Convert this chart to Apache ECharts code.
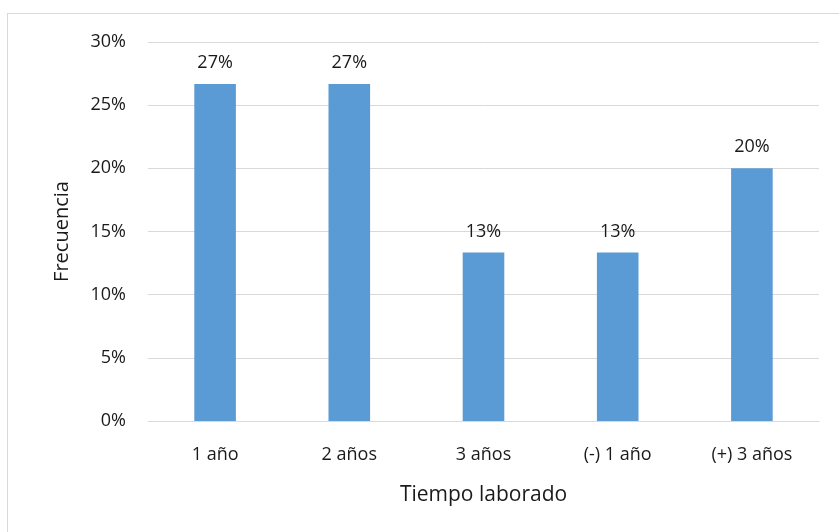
<!DOCTYPE html>
<html>
<head>
<meta charset="utf-8">
<script src="https://cdn.jsdelivr.net/npm/echarts@6/dist/echarts.min.js"></script>
<style>
  html, body { margin: 0; padding: 0; background: #fff; }
  #frame { position: absolute; left: 7px; top: 13px; width: 900px; height: 600px;
           border: 1px solid #d9d9d9; box-sizing: border-box; }
  #chart { position: absolute; left: 0; top: 0; width: 839px; height: 532px; }
</style>
</head>
<body>
<div id="frame"></div>
<div id="chart"></div>
<script>
// Tiempo laborado vs. frecuencia (porcentaje)
const categories = ['1 año', '2 años', '3 años', '(-) 1 año', '(+) 3 años'];
const frecuencia = [26.67, 26.67, 13.33, 13.33, 20.0];
const yTicks = { min: 0, max: 30, interval: 5 };

const font = "'Open Sans', 'Noto Sans', sans-serif";
const textColor = '#1a1a1a';

const chart = echarts.init(document.getElementById('chart'), null, { renderer: 'canvas' });
chart.setOption({
  animation: false,
  grid: { left: 148, right: 20, top: 42, bottom: 111, containLabel: false },
  xAxis: {
    type: 'category',
    data: categories,
    name: 'Tiempo laborado',
    nameLocation: 'middle',
    nameGap: 64,
    nameTextStyle: { fontFamily: font, fontSize: 21, color: textColor },
    axisLine: { show: true, lineStyle: { color: '#d9d9d9', width: 1 } },
    axisTick: { show: false },
    axisLabel: { fontFamily: font, fontSize: 18, color: textColor, margin: 25 }
  },
  yAxis: {
    type: 'value',
    min: yTicks.min,
    max: yTicks.max,
    interval: yTicks.interval,
    name: 'Frecuencia',
    nameLocation: 'middle',
    nameGap: 76,
    nameRotate: 90,
    nameTextStyle: { fontFamily: font, fontSize: 20, color: textColor },
    axisLine: { show: false },
    axisTick: { show: false },
    axisLabel: { fontFamily: font, fontSize: 18, color: textColor, margin: 22,
                 formatter: v => v + '%' },
    splitLine: { lineStyle: { color: '#d9d9d9', width: 1 } }
  },
  series: [{
    type: 'bar',
    data: frecuencia,
    barWidth: '31%',
    itemStyle: { color: '#5b9bd5' },
    label: {
      show: true,
      position: 'top',
      distance: 12,
      fontFamily: font,
      fontSize: 18,
      color: textColor,
      formatter: p => Math.round(p.value) + '%'
    }
  }]
});
</script>
</body>
</html>
